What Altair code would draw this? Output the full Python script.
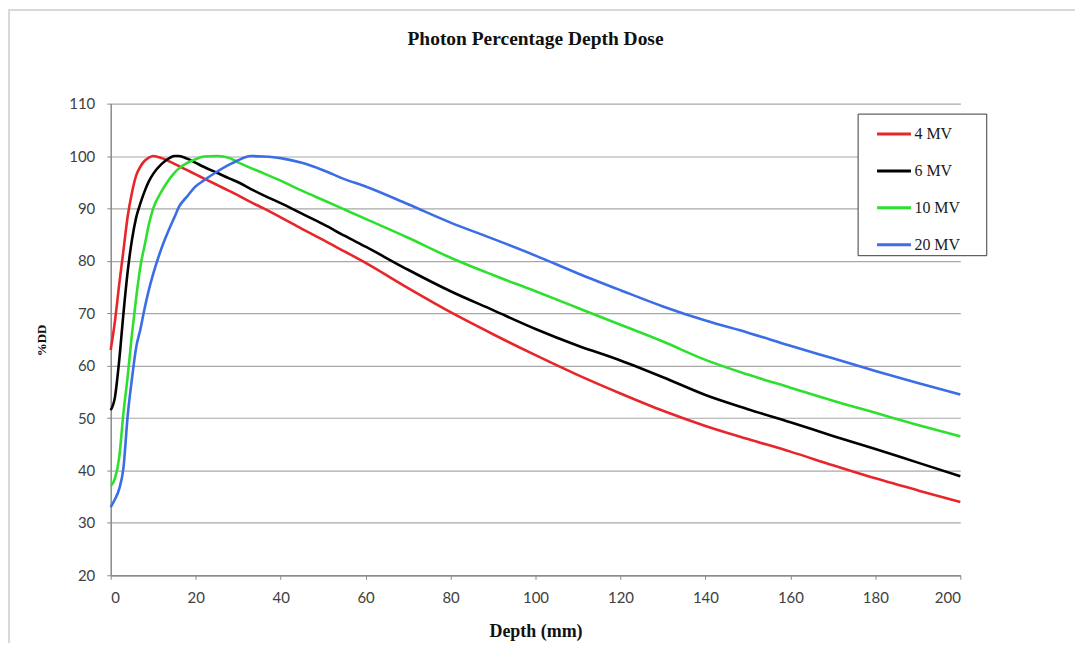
import altair as alt
import pandas as pd

# ---- data ----
depth_mm = [0, 1, 2, 3, 4, 5, 6, 7, 8, 9, 10, 12, 14, 15, 16, 18, 20, 22, 25, 28, 30,
            33, 36, 40, 45, 50, 55, 60, 70, 80, 90, 100, 110, 120, 130, 140, 150,
            160, 170, 180, 190, 200]

pdd_4mv = [63, 68.5, 75.5, 82, 88.5, 93, 96.3, 98, 99.1, 99.7, 100, 99.6, 98.9, 98.5,
           98.1, 97.3, 96.5, 95.7, 94.5, 93.3, 92.5, 91.2, 90, 88.3, 86.1, 84, 81.8,
           79.6, 74.8, 70.2, 66, 62, 58.2, 54.7, 51.4, 48.5, 46, 43.6, 41, 38.5, 36.2, 34]

pdd_6mv = [51.5, 54, 61, 70, 78, 84, 88.3, 91, 93.3, 95.2, 96.6, 98.5, 99.7, 100, 100,
           99.5, 98.7, 97.9, 96.8, 95.7, 95, 93.7, 92.5, 91, 89, 87, 84.8, 82.7, 78.3,
           74.2, 70.6, 67, 63.8, 61, 57.8, 54.4, 51.7, 49.2, 46.6, 44.1, 41.5, 38.9]

pdd_10mv = [37, 38.5, 42.5, 51, 58, 66, 73, 79, 83, 87, 90, 93.3, 95.8, 96.8, 97.6,
            98.7, 99.4, 99.9, 100, 99.6, 98.8, 97.7, 96.7, 95.3, 93.4, 91.6, 89.8, 88,
            84.4, 80.6, 77.3, 74.2, 71, 67.8, 64.6, 61.1, 58.3, 55.8, 53.3, 51, 48.7, 46.5]

pdd_20mv = [33, 34.5, 36.5, 40.5, 50.5, 57.5, 63.5, 67, 71, 74.5, 77.5, 82.5, 86.5,
            88.3, 90.2, 92.3, 94.2, 95.4, 97, 98.4, 99.2, 100, 99.9, 99.6, 98.7, 97.3,
            95.6, 94.2, 90.8, 87.3, 84.2, 81, 77.6, 74.4, 71.3, 68.6, 66.3, 63.8, 61.4,
            59, 56.7, 54.5]

series_names = ["4 MV", "6 MV", "10 MV", "20 MV"]
series_colors = ["#e8262a", "#000000", "#2ee02e", "#3a6de6"]
x_ticks = [0, 20, 40, 60, 80, 100, 120, 140, 160, 180, 200]
y_ticks = [20, 30, 40, 50, 60, 70, 80, 90, 100, 110]

# ---- build long table ----
rows = []
for name, vals in zip(series_names, [pdd_4mv, pdd_6mv, pdd_10mv, pdd_20mv]):
    for d, v in zip(depth_mm, vals):
        rows.append({"Depth": d, "PDD": v, "Energy": name})
df = pd.DataFrame(rows)

W, H = 852, 473
PAD = {"left": 103, "top": 95, "right": 115, "bottom": 67}

serif = "Liberation Serif"
sans = "Lato"

frame = alt.Chart(pd.DataFrame({"k": [0]})).mark_rect(
    fill="transparent", stroke="#d9d9d9", strokeWidth=2
).encode(
    x=alt.value(-102), x2=alt.value(W + 250),
    y=alt.value(-94), y2=alt.value(H + 250),
)

lines = alt.Chart(df).mark_line(strokeWidth=2.6, interpolate="monotone").encode(
    x=alt.X("Depth:Q",
            scale=alt.Scale(domain=[0, 200], nice=False),
            axis=alt.Axis(values=x_ticks, title="Depth (mm)", grid=False,
                          titleX=426, titleY=56, titleBaseline="middle",
                          titleAlign="center")),
    y=alt.Y("PDD:Q",
            scale=alt.Scale(domain=[20, 110], nice=False),
            axis=alt.Axis(values=y_ticks, title="%DD", grid=True,
                          titleX=-69, titleY=237, titleAngle=-90,
                          titleAlign="center", titleBaseline="middle",
                          titleFontSize=13)),
    color=alt.Color("Energy:N",
                    scale=alt.Scale(domain=series_names, range=series_colors),
                    legend=alt.Legend(
                        title=None, orient="none", legendX=749, legendY=10,
                        symbolType="stroke", symbolSize=1156, symbolStrokeWidth=3,
                        symbolOffset=16, labelOffset=2, rowPadding=10, padding=2,
                        labelFont=serif, labelFontSize=16, labelColor="#1a1a1a",
                        labelExpr="datum.label + '\u2800\u2800'",
                        strokeColor="#3c3c3c", fillColor="white",
                    )),
)

chart = alt.layer(frame, lines).properties(
    width=W, height=H,
    title=alt.TitleParams("Photon Percentage Depth Dose", font=serif, fontSize=19.5,
                          fontWeight="bold", color="#111111", offset=-41,
                          anchor="middle"),
    autosize=alt.AutoSizeParams(type="none"),
    padding=PAD,
    background="white",
).configure_view(stroke=None).configure_axis(
    domainColor="#8a8a8a", domainWidth=1.5, tickColor="#8a8a8a", tickSize=4,
    gridColor="#a8a8a8", gridWidth=1.2,
    labelFont=sans, labelFontSize=15, labelColor="#404040", labelPadding=11,
    titleFont=serif, titleFontSize=18, titleFontWeight="bold", titleColor="#111111",
).configure_axisY(labelPadding=12)

chart.save("out.html", embed_options={"renderer": "svg", "actions": False})
